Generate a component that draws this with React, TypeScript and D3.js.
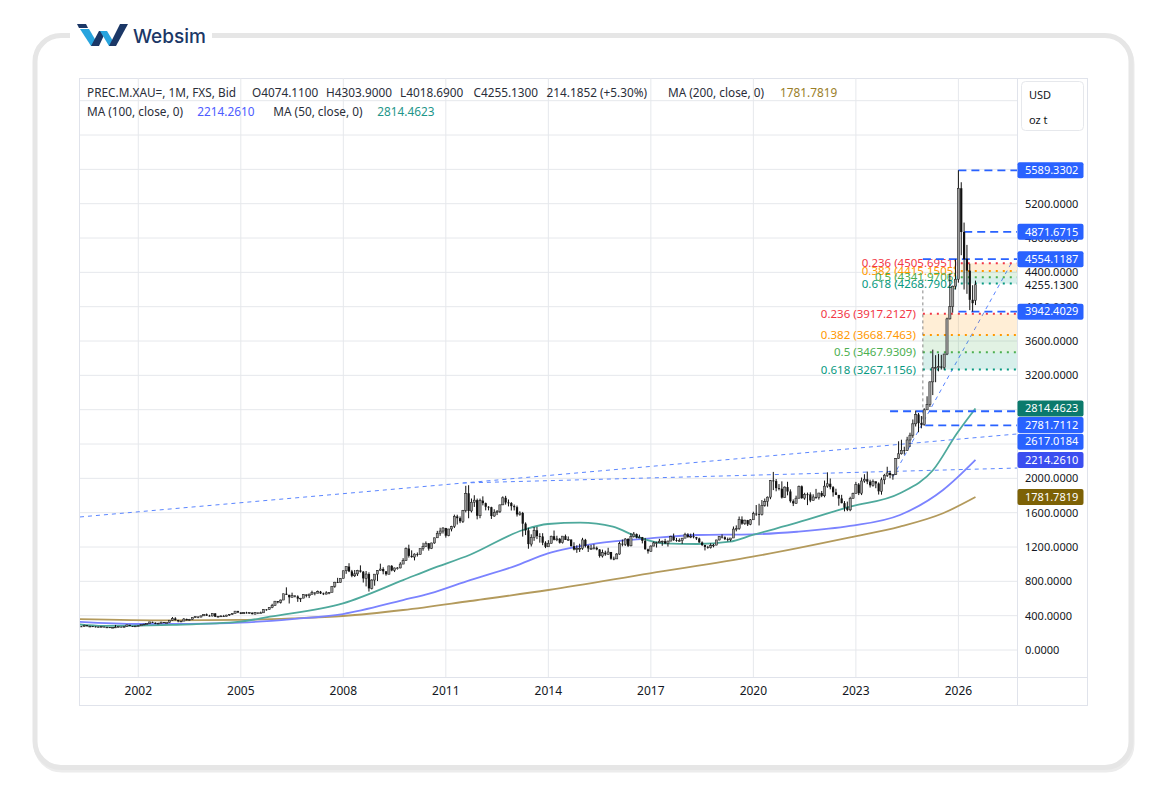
import * as d3 from "d3";

/* ── monthly candles (Jan 2000 .. Jul 2026) ── */
const FIRST_OPEN = 288;
const LAST_OPEN = 4074.11;
const YEARS = [2000, 2001, 2002, 2003, 2004, 2005, 2006, 2007, 2008, 2009, 2010, 2011, 2012, 2013,
  2014, 2015, 2016, 2017, 2018, 2019, 2020, 2021, 2022, 2023, 2024, 2025, 2026];

const CLOSES = [
  [283, 294, 278, 275, 272, 288, 277, 277, 274, 265, 269, 272],
  [266, 267, 258, 264, 267, 271, 266, 273, 293, 279, 276, 279],
  [282, 297, 302, 309, 327, 318, 305, 312, 324, 317, 319, 347],
  [368, 348, 335, 337, 361, 346, 355, 376, 388, 384, 398, 416],
  [400, 396, 427, 388, 394, 396, 391, 407, 416, 428, 453, 438],
  [422, 436, 429, 435, 418, 436, 430, 433, 473, 471, 496, 517],
  [569, 556, 582, 655, 643, 614, 633, 624, 599, 604, 647, 632],
  [651, 669, 662, 679, 659, 651, 666, 672, 743, 790, 784, 834],
  [923, 972, 916, 865, 887, 928, 912, 834, 885, 718, 815, 884],
  [927, 943, 917, 883, 980, 927, 956, 956, 1001, 1040, 1182, 1097],
  [1083, 1118, 1113, 1180, 1207, 1244, 1181, 1247, 1307, 1359, 1386, 1421],
  [1332, 1410, 1439, 1556, 1536, 1500, 1628, 1826, 1620, 1722, 1746, 1564],
  [1740, 1711, 1669, 1664, 1561, 1604, 1614, 1691, 1773, 1719, 1712, 1676],
  [1664, 1579, 1596, 1472, 1394, 1234, 1312, 1395, 1327, 1323, 1250, 1202],
  [1244, 1326, 1284, 1295, 1250, 1327, 1282, 1287, 1210, 1171, 1182, 1184],
  [1283, 1213, 1183, 1183, 1190, 1172, 1095, 1134, 1115, 1142, 1064, 1061],
  [1118, 1238, 1232, 1293, 1214, 1321, 1351, 1309, 1315, 1272, 1173, 1151],
  [1211, 1248, 1249, 1268, 1268, 1242, 1269, 1322, 1280, 1271, 1275, 1303],
  [1345, 1318, 1325, 1315, 1299, 1253, 1224, 1201, 1192, 1215, 1222, 1282],
  [1321, 1313, 1292, 1284, 1305, 1409, 1413, 1520, 1472, 1513, 1464, 1517],
  [1589, 1585, 1577, 1686, 1730, 1781, 1975, 1968, 1886, 1879, 1776, 1898],
  [1847, 1734, 1708, 1769, 1907, 1770, 1814, 1813, 1742, 1783, 1774, 1829],
  [1797, 1909, 1937, 1897, 1837, 1807, 1766, 1711, 1660, 1633, 1768, 1824],
  [1928, 1827, 1969, 1990, 1962, 1919, 1965, 1940, 1849, 1983, 2036, 2063],
  [2039, 2044, 2230, 2286, 2327, 2326, 2447, 2503, 2635, 2744, 2643, 2625],
  [2798, 2858, 3124, 3288, 3289, 3303, 3290, 3448, 3858, 4000, 4239, 4320],
  [5380, 4870, 4554, 4420, 4080, 4040.94, 4255.13],
];

const HIGHS = [
  [292, 313, 294, 284, 280, 294, 291, 282, 278, 275, 271, 275],
  [272, 268, 268, 266, 292, 273, 272, 278, 293, 293, 280, 280],
  [284, 298, 304, 311, 328, 330, 321, 318, 330, 326, 321, 348],
  [384, 382, 352, 340, 372, 366, 362, 378, 392, 392, 399, 417],
  [425, 410, 427, 428, 395, 404, 409, 410, 418, 431, 454, 457],
  [430, 440, 445, 439, 437, 442, 431, 447, 476, 476, 498, 538],
  [571, 571, 588, 654, 730, 636, 668, 638, 637, 605, 649, 646],
  [657, 691, 672, 693, 688, 669, 685, 675, 745, 794, 841, 835],
  [924, 975, 1011, 933, 932, 934, 986, 920, 920, 905, 825, 881],
  [932, 1006, 964, 915, 981, 989, 960, 965, 1023, 1070, 1195, 1227],
  [1161, 1125, 1136, 1180, 1249, 1265, 1243, 1250, 1308, 1388, 1424, 1431],
  [1423, 1411, 1447, 1577, 1576, 1556, 1632, 1913, 1920, 1765, 1803, 1764],
  [1764, 1790, 1718, 1676, 1669, 1640, 1631, 1692, 1790, 1796, 1754, 1723],
  [1695, 1683, 1616, 1609, 1487, 1424, 1348, 1433, 1434, 1361, 1361, 1267],
  [1280, 1332, 1392, 1331, 1306, 1326, 1345, 1323, 1287, 1255, 1220, 1238],
  [1307, 1295, 1224, 1224, 1232, 1205, 1174, 1170, 1157, 1191, 1142, 1088],
  [1128, 1263, 1287, 1304, 1303, 1362, 1375, 1358, 1344, 1317, 1306, 1181],
  [1220, 1264, 1261, 1295, 1275, 1296, 1274, 1331, 1357, 1306, 1300, 1306],
  [1366, 1361, 1356, 1366, 1318, 1309, 1265, 1220, 1214, 1243, 1237, 1284],
  [1326, 1347, 1324, 1310, 1305, 1439, 1452, 1555, 1557, 1518, 1516, 1525],
  [1611, 1689, 1704, 1747, 1765, 1789, 1981, 2075, 1992, 1933, 1965, 1906],
  [1960, 1872, 1755, 1798, 1916, 1917, 1832, 1834, 1837, 1814, 1877, 1831],
  [1853, 1974, 2070, 1998, 1910, 1879, 1789, 1808, 1735, 1729, 1786, 1833],
  [1959, 1945, 2009, 2048, 2079, 1984, 1987, 1949, 1953, 2009, 2052, 2135],
  [2088, 2050, 2236, 2432, 2450, 2369, 2484, 2532, 2686, 2790, 2762, 2726],
  [2817, 2956, 3128, 3500, 3435, 3451, 3439, 3453, 3872, 4381, 4245, 4550],
  [5589.3302, 5450, 4980, 4720, 4500, 4250, 4303.9],
];

const LOWS = [
  [280, 280, 276, 273, 270, 271, 275, 270, 267, 263, 264, 267],
  [263, 256, 255, 255, 263, 265, 265, 264, 270, 278, 270, 274],
  [277, 281, 289, 300, 308, 315, 302, 302, 312, 313, 316, 318],
  [342, 345, 323, 324, 337, 345, 343, 353, 373, 371, 379, 396],
  [398, 390, 392, 384, 376, 386, 388, 392, 398, 411, 425, 430],
  [418, 421, 425, 423, 414, 414, 418, 429, 434, 458, 468, 487],
  [517, 543, 541, 582, 643, 542, 617, 613, 561, 559, 604, 613],
  [605, 643, 637, 661, 652, 640, 649, 650, 672, 725, 780, 782],
  [846, 887, 907, 848, 850, 863, 902, 786, 741, 681, 705, 749],
  [803, 924, 882, 866, 885, 917, 908, 937, 951, 1001, 1038, 1077],
  [1075, 1044, 1089, 1114, 1157, 1205, 1158, 1176, 1238, 1315, 1330, 1357],
  [1309, 1325, 1382, 1421, 1462, 1478, 1480, 1603, 1535, 1602, 1667, 1522],
  [1535, 1685, 1627, 1627, 1527, 1552, 1572, 1596, 1688, 1694, 1673, 1625],
  [1626, 1555, 1565, 1321, 1339, 1180, 1206, 1272, 1292, 1251, 1221, 1187],
  [1203, 1240, 1277, 1268, 1240, 1240, 1282, 1273, 1206, 1161, 1132, 1142],
  [1167, 1195, 1142, 1170, 1171, 1162, 1077, 1077, 1098, 1112, 1052, 1046],
  [1062, 1110, 1208, 1212, 1200, 1207, 1310, 1301, 1303, 1242, 1171, 1123],
  [1146, 1208, 1194, 1246, 1214, 1236, 1205, 1267, 1272, 1261, 1263, 1236],
  [1303, 1307, 1303, 1301, 1281, 1250, 1211, 1160, 1180, 1182, 1196, 1221],
  [1276, 1300, 1281, 1266, 1266, 1307, 1382, 1400, 1459, 1458, 1445, 1454],
  [1517, 1563, 1451, 1567, 1670, 1671, 1757, 1863, 1849, 1860, 1765, 1776],
  [1802, 1717, 1677, 1704, 1766, 1761, 1750, 1688, 1722, 1746, 1762, 1753],
  [1781, 1779, 1890, 1872, 1787, 1805, 1681, 1709, 1615, 1618, 1617, 1765],
  [1823, 1805, 1805, 1949, 1932, 1893, 1903, 1885, 1811, 1810, 1931, 2016],
  [2002, 1984, 2039, 2229, 2277, 2277, 2319, 2365, 2472, 2604, 2537, 2583],
  [2614, 2833, 2832, 2970, 3120, 3247, 3268, 3268, 3436, 3850, 3930, 4200],
  [4280, 4600, 4200, 4150, 3960, 3942.4029, 4018.69],
];

/* ── moving averages (decimal year, value) ── */
const MA50_T = [2000.0, 2000.97, 2002.0, 2003.0, 2004.98, 2005.85, 2007.99, 2009.75, 2010.54, 2011.71, 2013.26, 2013.99,
  2014.93, 2015.89, 2016.59, 2017.35, 2018.35, 2019.31, 2019.98, 2021.28, 2022.83, 2024.29, 2025.26, 2025.96, 2026.5];
const MA50_V = [310, 280, 283, 292, 330, 388, 544, 815, 940, 1110, 1398, 1468,
  1483, 1437, 1320, 1243, 1235, 1262, 1340, 1483, 1670, 1826, 2097, 2525, 2814.4623];

const MA100_T = [2000.0, 2002.0, 2003.5, 2004.98, 2006.5, 2007.99, 2009.75, 2010.54, 2011.71, 2013.0, 2013.99,
  2015.42, 2016.97, 2018.35, 2019.98, 2021.28, 2022.83, 2024.29, 2025.55, 2026.5];
const MA100_V = [335, 303, 305, 318, 360, 419, 582, 660, 815, 975, 1126,
  1243, 1301, 1340, 1348, 1378, 1445, 1573, 1864, 2214.261];

const MA200_T = [2000.0, 2002.9, 2004.98, 2006.5, 2007.99, 2009.75, 2011.71, 2014.0, 2016.97, 2019.98,
  2022.83, 2024.29, 2025.55, 2026.5];
const MA200_V = [362, 345, 350, 368, 396, 466, 571, 699, 893, 1087, 1313, 1437, 1593, 1781.7819];

/* ── drawings ── */
const TRENDS = [
  { t1: 2000.294, v1: 1550, t2: 2027.715, v2: 2517 },
  { t1: 2011.5, v1: 1946, t2: 2027.715, v2: 2120 },
  { t1: 2024.08, v1: 2016, t2: 2027.6, v2: 4544 },
];
const LEVEL_VALUES = [5589.3302, 4871.6715, 4554.1187, 3942.4029, 2781.7112, 2617.0184];
const LEVEL_STARTS = [2026.0, 2026.17, 2024.96, 2026.0, 2024.0, 2025.03];

const FIB_RATIOS = ["0.236", "0.382", "0.5", "0.618"];
const FIB_COLORS = ["#f23645", "#ff9800", "#4caf50", "#089981"];
const FIB_LOW = [3917.2127, 3668.7463, 3467.9309, 3267.1156];
const FIB_HIGH = [4505.6951, 4415.1505, 4341.9706, 4268.7902];
const FIB_LOW_START = 2024.96;
const FIB_HIGH_START = 2026.07;
const FIB_LOW_ANCHORS = [2617.0184, 4318.8];

const BADGE_VALUES = [5589.3302, 4871.6715, 4554.1187, 3942.4029, 2814.4623, 2781.7112, 2617.0184, 2214.261, 1781.7819];
const BADGE_COLORS = ["#2962ff", "#2962ff", "#2962ff", "#2962ff", "#0b7a6c", "#2962ff", "#2962ff", "#3b4ef0", "#7d6206"];

// price labels that are not fully covered by a badge
const PRICE_TICKS = [0, 400, 800, 1200, 1600, 2000, 3200, 3600, 4000, 4400, 4800, 5200];
const GRID_TICKS = [0, 400, 800, 1200, 1600, 2000, 2400, 2800, 3200, 3600, 4000, 4400, 4800, 5200, 5600, 6000, 6400];
const YEAR_TICKS = [2002, 2005, 2008, 2011, 2014, 2017, 2020, 2023, 2026];
const LAST_PRICE = 4255.13;

const PL = 80, PR = 1017, PT = 78, PB = 677;
const FONT = "'Noto Sans', 'DejaVu Sans', sans-serif";
const fmt = (v: number) => v.toFixed(4);

export default function App() {
  const x = d3.scaleLinear().domain([2000.294, 2027.715]).range([PL, PR]);
  const y = d3.scaleLinear().domain([0, 6400]).range([650, 100.7]);

  const candles: { t: number; o: number; h: number; l: number; c: number }[] = [];
  let prev = FIRST_OPEN;
  YEARS.forEach((yr, i) => {
    CLOSES[i].forEach((c, m) => {
      const last = i === YEARS.length - 1 && m === CLOSES[i].length - 1;
      const o = last ? LAST_OPEN : prev;
      candles.push({ t: yr + m / 12, o, h: Math.max(HIGHS[i][m], o, c), l: Math.min(LOWS[i][m], o, c), c });
      prev = c;
    });
  });

  const maLine = d3.line<[number, number]>().x(d => x(d[0])).y(d => y(d[1])).curve(d3.curveMonotoneX);
  const mas = [
    { t: MA200_T, v: MA200_V, color: "#b39a5c" },
    { t: MA100_T, v: MA100_V, color: "#7b83ff" },
    { t: MA50_T, v: MA50_V, color: "#4ea99c" },
  ];

  // badge layout: push down to avoid overlap
  const BH = 16;
  const badges = BADGE_VALUES.map((v, i) => ({ v, color: BADGE_COLORS[i], cy: y(v) }))
    .sort((a, b) => a.cy - b.cy);
  for (let i = 1; i < badges.length; i++) {
    badges[i].cy = Math.max(badges[i].cy, badges[i - 1].cy + BH + 0.6);
  }

  const bw = 2.2;

  const fibBlock = (vals: number[], start: number, labelGap: number) => (
    <g>
      {vals.slice(1).map((v, i) => (
        <rect key={"f" + i} x={x(start)} y={y(vals[i])} width={PR - x(start)} height={y(v) - y(vals[i])}
          fill={FIB_COLORS[i + 1]} opacity={0.16} />
      ))}
      {vals.map((v, i) => (
        <line key={"l" + i} x1={x(start)} x2={PR} y1={y(v)} y2={y(v)} stroke={FIB_COLORS[i]}
          strokeWidth={2} strokeDasharray="2 5" />
      ))}
      {vals.map((v, i) => (
        <text key={"t" + i} x={x(start) - labelGap} y={y(v)} dy="0.35em" textAnchor="end"
          fontSize={11.5} fill={FIB_COLORS[i]}>{`${FIB_RATIOS[i]} (${fmt(v)})`}</text>
      ))}
    </g>
  );

  return (
    <svg width={1166} height={804} style={{ position: "absolute", left: 0, top: 0, fontFamily: FONT }}>
      <rect width={1166} height={804} fill="#fff" />
      {/* card */}
      <rect x={36} y={38} width={1096} height={732} rx={26} fill="none" stroke="#ececec" strokeWidth={5} />
      <rect x={35} y={35.5} width={1096} height={732} rx={26} fill="#fff" stroke="#e6e6e6" strokeWidth={5} />

      {/* logo */}
      <rect x={70} y={24} width={142} height={24} fill="#fff" />
      <g>
        <path d="M77,24 L86,24 L88,28 L79,28 Z" fill="#1b3766" />
        <path d="M80,29 L89,29 L99,46 L91,46 Z" fill="#27a4de" />
        <path d="M91,46 L99,46 L106,31 L99,31 Z" fill="#1b3766" />
        <path d="M100,31 L107,31 L116,46 L109,46 Z" fill="#27a4de" />
        <path d="M109,46 L116,46 L128,24 L120,24 Z" fill="#1b3766" />
      </g>
      <text x={133} y={42.5} fontSize={19} fontWeight={500} fill="#1b3766"
        style={{ fontFamily: "Inter, 'Noto Sans', sans-serif" }}>Websim</text>

      {/* chart panel */}
      <rect x={79.5} y={78.5} width={1008} height={627} fill="#fff" stroke="#e0e3eb" />
      <defs>
        <clipPath id="plot"><rect x={PL} y={PT} width={PR - PL} height={PB - PT} /></clipPath>
      </defs>

      <g clipPath="url(#plot)">
        {GRID_TICKS.map(v => (
          <line key={v} x1={PL} x2={PR} y1={y(v)} y2={y(v)} stroke="#e6e8ec" />
        ))}
        {YEAR_TICKS.map(t => (
          <line key={t} x1={x(t)} x2={x(t)} y1={PT} y2={PB} stroke="#e6e8ec" />
        ))}

        {mas.map((m, i) => (
          <path key={i} d={maLine(m.t.map((t, j) => [t, m.v[j]] as [number, number])) ?? ""}
            fill="none" stroke={m.color} strokeWidth={1.8} />
        ))}

        {TRENDS.map((d, i) => (
          <line key={i} x1={x(d.t1)} y1={y(d.v1)} x2={x(d.t2)} y2={y(d.v2)}
            stroke="#5b86ff" strokeWidth={1} strokeDasharray="4 4" />
        ))}

        {fibBlock(FIB_LOW, FIB_LOW_START, 7)}
        {fibBlock(FIB_HIGH, FIB_HIGH_START, 4)}
        <line x1={x(FIB_LOW_START)} x2={x(FIB_LOW_START)} y1={y(FIB_LOW_ANCHORS[0])} y2={y(FIB_LOW_ANCHORS[1])}
          stroke="#666" strokeWidth={0.8} strokeDasharray="3 3" />

        {LEVEL_VALUES.map((v, i) => (
          <line key={i} x1={x(LEVEL_STARTS[i])} x2={PR} y1={y(v)} y2={y(v)}
            stroke="#2962ff" strokeWidth={1.8} strokeDasharray="8 5" />
        ))}

        {candles.map((d, i) => {
          const up = d.c >= d.o;
          const cx = x(d.t);
          const top = y(Math.max(d.o, d.c));
          const h = Math.max(0.8, y(Math.min(d.o, d.c)) - top);
          return (
            <g key={i}>
              <line x1={cx} x2={cx} y1={y(d.h)} y2={y(d.l)} stroke="#111" strokeWidth={1} />
              <rect x={cx - bw / 2} y={top} width={bw} height={h}
                fill={up ? "#9c9c9c" : "#111"} stroke="#111" strokeWidth={up ? 0.5 : 0} />
            </g>
          );
        })}
      </g>

      {/* legend */}
      <g fontSize={11.8} fill="#2a2e39">
        <text x={87} y={97}>PREC.M.XAU=, 1M, FXS, Bid</text>
        <text x={252} y={97}>O4074.1100</text>
        <text x={326} y={97}>H4303.9000</text>
        <text x={400} y={97}>L4018.6900</text>
        <text x={473.5} y={97}>C4255.1300</text>
        <text x={546.5} y={97}>214.1852 (+5.30%)</text>
        <text x={668} y={97}>MA (200, close, 0)</text>
        <text x={780} y={97} fill="#9b7f2a">{fmt(MA200_V[MA200_V.length - 1])}</text>
        <text x={87} y={116}>MA (100, close, 0)</text>
        <text x={197.3} y={116} fill="#4d5cff">{fmt(MA100_V[MA100_V.length - 1])}</text>
        <text x={273.3} y={116}>MA (50, close, 0)</text>
        <text x={377.3} y={116} fill="#1f968a">{fmt(MA50_V[MA50_V.length - 1])}</text>
      </g>

      {/* axes */}
      <line x1={PR + 0.5} x2={PR + 0.5} y1={PT} y2={705} stroke="#e0e3eb" />
      <line x1={PL} x2={1087} y1={PB + 0.5} y2={PB + 0.5} stroke="#e0e3eb" />
      {YEAR_TICKS.map(t => (
        <text key={t} x={x(t)} y={691} dy="0.35em" textAnchor="middle" fontSize={12} fill="#131722">{t}</text>
      ))}
      {PRICE_TICKS.map(v => (
        <text key={v} x={1025} y={y(v)} dy="0.35em" fontSize={11} fill="#131722">{fmt(v)}</text>
      ))}
      <text x={1025} y={y(LAST_PRICE)} dy="0.35em" fontSize={11} fill="#131722">{fmt(LAST_PRICE)}</text>

      {badges.map((b, i) => (
        <g key={i}>
          <rect x={1017.5} y={b.cy - BH / 2} width={66} height={BH} rx={2} fill={b.color} />
          <text x={1025} y={b.cy} dy="0.35em" fontSize={11} fill="#fff">{fmt(b.v)}</text>
        </g>
      ))}

      <rect x={1021.5} y={81.5} width={62} height={49} rx={4} fill="#fff" stroke="#e6e8ec" />
      <text x={1029} y={95} dy="0.35em" fontSize={11} fill="#131722">USD</text>
      <text x={1029} y={120} dy="0.35em" fontSize={11} fill="#131722">oz t</text>
    </svg>
  );
}
